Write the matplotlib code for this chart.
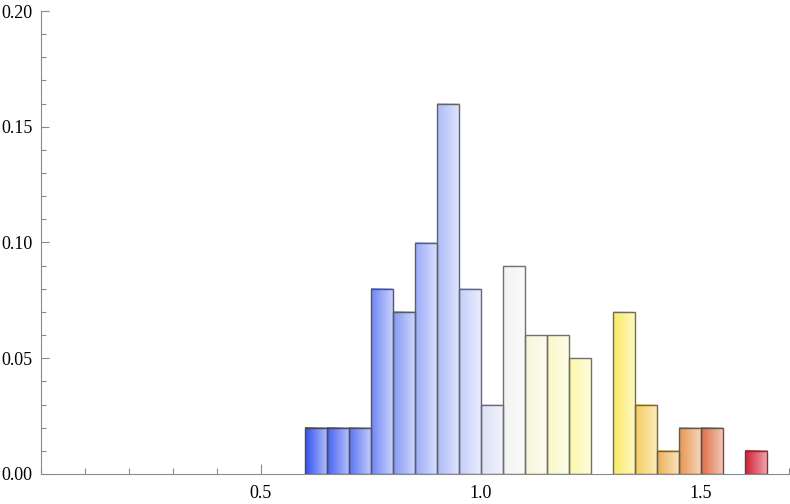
import numpy as np
import matplotlib
matplotlib.use("Agg")
import matplotlib.pyplot as plt
from matplotlib.colors import LinearSegmentedColormap
from matplotlib.ticker import MultipleLocator, FixedLocator, FuncFormatter

# ---- data ----
bin_left = [0.60, 0.65, 0.70, 0.75, 0.80, 0.85, 0.90, 0.95, 1.00, 1.05,
            1.10, 1.15, 1.20, 1.30, 1.35, 1.40, 1.45, 1.50, 1.60]
heights = [0.02, 0.02, 0.02, 0.08, 0.07, 0.10, 0.16, 0.08, 0.03, 0.09,
           0.06, 0.06, 0.05, 0.07, 0.03, 0.01, 0.02, 0.02, 0.01]
bin_width = 0.05
x_major = [0.5, 1.0, 1.5]
x_labels = ["0.5", "1.0", "1.5"]

# colour scale anchors (data position -> colour)
anchor_pos = [0.625, 0.95, 1.075, 1.2, 1.325, 1.475, 1.625]
anchor_rgb = [(50, 80, 240), (185, 197, 250), (242, 243, 242), (252, 250, 185),
              (250, 235, 100), (230, 150, 80), (210, 30, 50)]

plt.rcParams['font.family'] = 'serif'
plt.rcParams['font.serif'] = ['Liberation Serif', 'DejaVu Serif']

lo, hi = anchor_pos[0], anchor_pos[-1]
cmap = LinearSegmentedColormap.from_list(
    "temp", [((p - lo) / (hi - lo), tuple(c / 255 for c in rgb))
             for p, rgb in zip(anchor_pos, anchor_rgb)])

fig = plt.figure(figsize=(7.9, 5.04), dpi=100)
ax = fig.add_axes([41 / 790, 30 / 504, 748 / 790, 463 / 504])

axis_col = "#8a8a8a"
for i, (x0, h) in enumerate(zip(bin_left, heights)):
    c = np.array(cmap((x0 + bin_width / 2 - lo) / (hi - lo))[:3])
    t = np.linspace(0, 1, 64)[:, None]
    grad = c[None, :] * (1 - 0.62 * t) + 0.62 * t
    ax.imshow(grad[None, :, :], extent=[x0, x0 + bin_width, 0, h],
              aspect='auto', interpolation='bilinear', zorder=2)
    edge = 0.25 * c + 0.2
    ax.bar(x0, h, width=bin_width, align='edge', fill=False,
           edgecolor=edge, linewidth=1.0, zorder=3)

ax.set_xlim(0, 1.7)
ax.set_ylim(0, 0.2)

for s in ["top", "right"]:
    ax.spines[s].set_visible(False)
for s in ["left", "bottom"]:
    ax.spines[s].set_color(axis_col)
    ax.spines[s].set_linewidth(0.8)
    ax.spines[s].set_zorder(4)

ax.xaxis.set_major_locator(FixedLocator(x_major))
ax.set_xticklabels(x_labels)
ax.xaxis.set_minor_locator(MultipleLocator(0.1))
ax.yaxis.set_major_locator(MultipleLocator(0.05))
ax.yaxis.set_minor_locator(MultipleLocator(0.01))
ax.yaxis.set_major_formatter(FuncFormatter(lambda v, p: f"{v:.2f}"))

ax.tick_params(which='both', direction='in', color=axis_col, width=0.8,
               labelsize=13, labelcolor='black')
ax.tick_params(axis='x', which='major', length=7, pad=8)
ax.tick_params(axis='x', which='minor', length=4)
ax.tick_params(axis='y', which='major', length=6, pad=6)
ax.tick_params(axis='y', which='minor', length=3.5)

fig.savefig("out.png", dpi=100)
